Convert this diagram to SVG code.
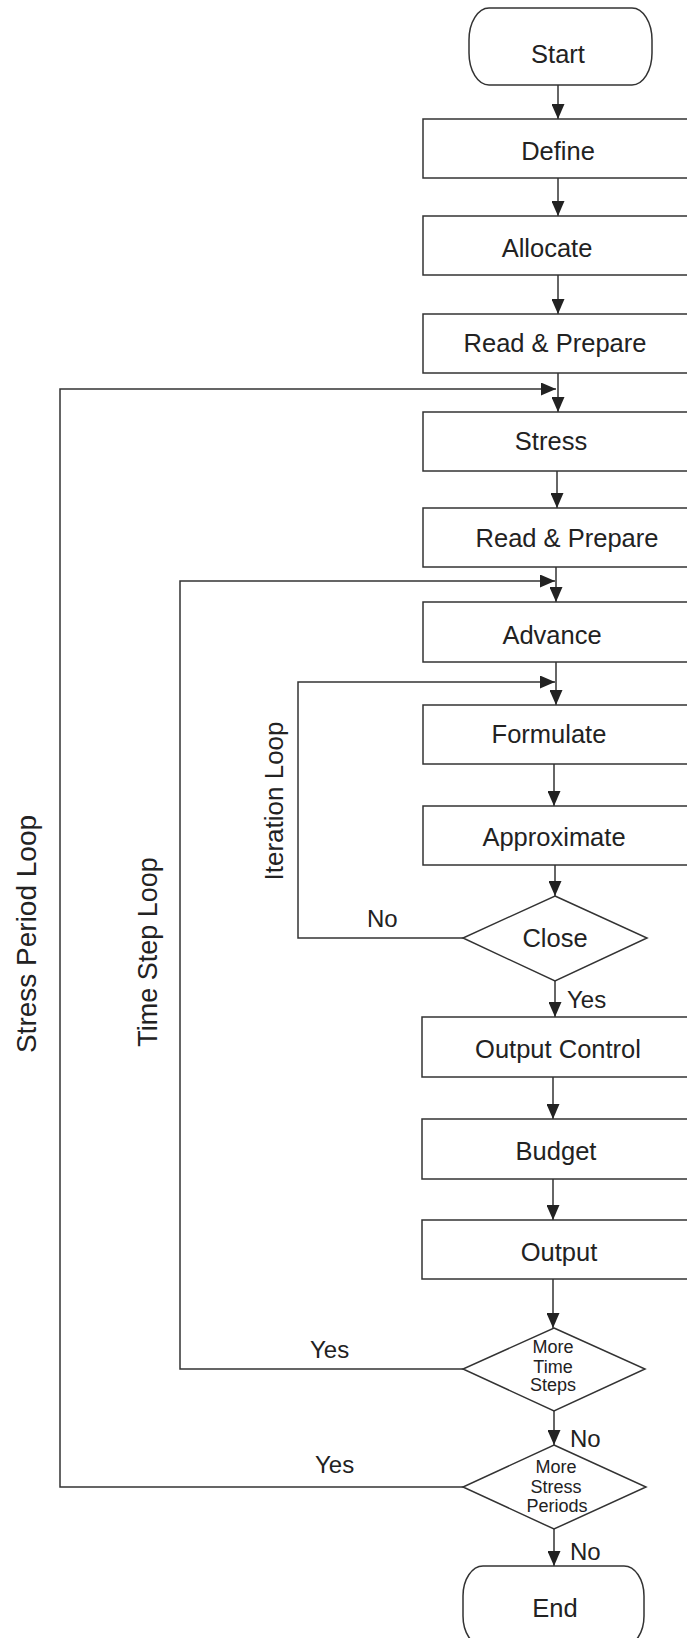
<svg xmlns="http://www.w3.org/2000/svg" width="687" height="1638" viewBox="0 0 687 1638">
<style>
.box{fill:#fff;stroke:#333;stroke-width:1.5}
.ln{fill:none;stroke:#333;stroke-width:1.5}
.t{font-family:"Liberation Sans",Arial,sans-serif;font-size:25.5px;fill:#222;text-anchor:middle}
.d{font-family:"Liberation Sans",Arial,sans-serif;font-size:18px;fill:#222;text-anchor:middle}
.l{font-family:"Liberation Sans",Arial,sans-serif;font-size:24px;fill:#222}
</style>
<defs>
<marker id="ah" viewBox="0 0 15 13" refX="15" refY="6.5" markerWidth="15" markerHeight="13" markerUnits="userSpaceOnUse" orient="auto">
<path d="M0,0 L15,6.5 L0,13 z" fill="#222"/>
</marker>
</defs>
<rect width="687" height="1638" fill="#fff"/>
<g id="connectors">
<path class="ln" marker-end="url(#ah)" d="M558,85 V119"/>
<path class="ln" marker-end="url(#ah)" d="M558,178 V216"/>
<path class="ln" marker-end="url(#ah)" d="M558,275 V314"/>
<path class="ln" marker-end="url(#ah)" d="M558,373 V412"/>
<path class="ln" marker-end="url(#ah)" d="M557,471 V508"/>
<path class="ln" marker-end="url(#ah)" d="M556,567 V602"/>
<path class="ln" marker-end="url(#ah)" d="M556,662 V705"/>
<path class="ln" marker-end="url(#ah)" d="M554,764 V806"/>
<path class="ln" marker-end="url(#ah)" d="M555,865 V896"/>
<path class="ln" marker-end="url(#ah)" d="M555,981 V1017"/>
<path class="ln" marker-end="url(#ah)" d="M553,1077 V1119"/>
<path class="ln" marker-end="url(#ah)" d="M553,1179 V1220"/>
<path class="ln" marker-end="url(#ah)" d="M553,1279 V1328"/>
<path class="ln" marker-end="url(#ah)" d="M554,1411 V1445"/>
<path class="ln" marker-end="url(#ah)" d="M554,1529 V1566"/>
<path class="ln" marker-end="url(#ah)" d="M463,1487 H60 V389 H556"/>
<path class="ln" marker-end="url(#ah)" d="M463,1369 H180 V581 H555"/>
<path class="ln" marker-end="url(#ah)" d="M463,938 H298 V682 H555"/>
</g>
<g id="start"><rect class="box" x="469" y="8" width="183" height="77" rx="20" ry="32"/><text class="t" x="558" y="63">Start</text></g>
<g id="define"><rect class="box" x="423" y="119" width="300" height="59"/><text class="t" x="558" y="160">Define</text></g>
<g id="allocate"><rect class="box" x="423" y="216" width="300" height="59"/><text class="t" x="547" y="257">Allocate</text></g>
<g id="read1"><rect class="box" x="423" y="314" width="300" height="59"/><text class="t" x="555" y="352">Read &amp; Prepare</text></g>
<g id="stress"><rect class="box" x="423" y="412" width="300" height="59"/><text class="t" x="551" y="450">Stress</text></g>
<g id="read2"><rect class="box" x="423" y="508" width="300" height="59"/><text class="t" x="567" y="547">Read &amp; Prepare</text></g>
<g id="advance"><rect class="box" x="423" y="602" width="300" height="60"/><text class="t" x="552" y="644">Advance</text></g>
<g id="formulate"><rect class="box" x="423" y="705" width="300" height="59"/><text class="t" x="549" y="743">Formulate</text></g>
<g id="approximate"><rect class="box" x="423" y="806" width="300" height="59"/><text class="t" x="554" y="846">Approximate</text></g>
<g id="close"><polygon class="box" points="555,896 647,938 555,981 463,938"/><text class="t" x="555" y="947">Close</text></g>
<g id="outputcontrol"><rect class="box" x="422" y="1017" width="300" height="60"/><text class="t" x="558" y="1058">Output Control</text></g>
<g id="budget"><rect class="box" x="422" y="1119" width="300" height="60"/><text class="t" x="556" y="1160">Budget</text></g>
<g id="output"><rect class="box" x="422" y="1220" width="300" height="59"/><text class="t" x="559" y="1261">Output</text></g>
<g id="moretimesteps"><polygon class="box" points="554,1328 645,1369 554,1411 463,1369"/>
<text class="d" x="553" y="1353">More</text><text class="d" x="553" y="1373">Time</text><text class="d" x="553" y="1391">Steps</text></g>
<g id="morestressperiods"><polygon class="box" points="554,1445 646,1487 554,1529 463,1487"/>
<text class="d" x="556" y="1473">More</text><text class="d" x="556" y="1493">Stress</text><text class="d" x="557" y="1512">Periods</text></g>
<g id="end"><rect class="box" x="463" y="1566" width="181" height="80" rx="20" ry="30"/><text class="t" x="555" y="1617">End</text></g>
<g id="labels">
<text class="l" x="367" y="927">No</text>
<text class="l" x="567" y="1008">Yes</text>
<text class="l" x="310" y="1358">Yes</text>
<text class="l" x="315" y="1473">Yes</text>
<text class="l" x="570" y="1447">No</text>
<text class="l" x="570" y="1560">No</text>
<text class="t" style="font-size:28px" transform="translate(36,934) rotate(-90)">Stress Period Loop</text>
<text class="t" style="font-size:27px" transform="translate(157,952) rotate(-90)">Time Step Loop</text>
<text class="t" style="font-size:26px" transform="translate(283,801) rotate(-90)">Iteration Loop</text>
</g>
</svg>
